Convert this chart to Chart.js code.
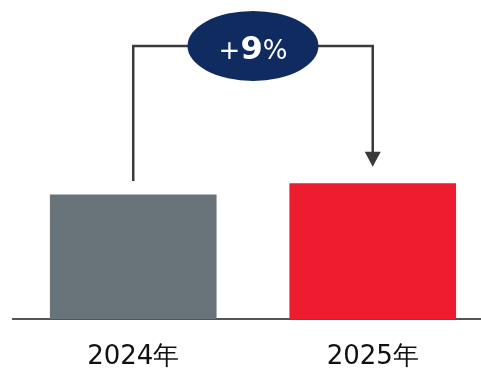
<!DOCTYPE html>
<html>
<head>
<meta charset="utf-8">
<script src="https://cdn.jsdelivr.net/npm/chart.js@4"></script>
<style>
  html, body { margin: 0; padding: 0; background: #fff; }
  #wrap { width: 481px; height: 371px; }
</style>
</head>
<body>
<div id="wrap"><canvas id="chart"></canvas></div>
<script>
// data
const kategori = ["2024年", "2025年"];
const nilai = [100, 109];
const warnaBar = ["#68737a", "#ed1c2e"];
const labelNaik = ["+", "9", "%"];

// posisi kategori di sumbu x (linear supaya jarak bar pas)
const posisiX = [0, 1];

// plugin untuk garis kurung + panah + elips
const kurungPlugin = {
  id: "kurung",
  afterDatasetsDraw(chart) {
    const ctx = chart.ctx;
    const xs = chart.scales.x;
    const ys = chart.scales.y;
    const x1 = xs.getPixelForValue(posisiX[0]);
    const x2 = xs.getPixelForValue(posisiX[1]);
    const top1 = ys.getPixelForValue(nilai[0]);
    const top2 = ys.getPixelForValue(nilai[1]);
    const yAtas = ys.getPixelForValue(220);
    const cx = (x1 + x2) / 2;

    ctx.save();
    ctx.strokeStyle = "#3a3a3a";
    ctx.lineWidth = 2.5;
    ctx.beginPath();
    ctx.moveTo(x1, top1 - 14);
    ctx.lineTo(x1, yAtas);
    ctx.lineTo(x2, yAtas);
    ctx.lineTo(x2, top2 - 30);
    ctx.stroke();

    // kepala panah
    ctx.fillStyle = "#3a3a3a";
    ctx.beginPath();
    ctx.moveTo(x2 - 8, top2 - 32);
    ctx.lineTo(x2 + 8, top2 - 32);
    ctx.lineTo(x2, top2 - 17);
    ctx.closePath();
    ctx.fill();

    // elips
    ctx.fillStyle = "#0f2b60";
    ctx.beginPath();
    ctx.ellipse(cx, yAtas, 65.5, 35, 0, 0, Math.PI * 2);
    ctx.fill();

    // teks +9%
    const fonts = ["26px 'DejaVu Sans'", "bold 32px 'DejaVu Sans'", "26px 'DejaVu Sans'"];
    let lebar = 0;
    const w = labelNaik.map((t, i) => {
      ctx.font = fonts[i];
      const m = ctx.measureText(t).width;
      lebar += m;
      return m;
    });
    let x = cx - lebar / 2;
    ctx.fillStyle = "#ffffff";
    ctx.textBaseline = "alphabetic";
    labelNaik.forEach((t, i) => {
      ctx.font = fonts[i];
      ctx.fillText(t, x, yAtas + 13);
      x += w[i];
    });
    ctx.restore();
  }
};

new Chart(document.getElementById("chart"), {
  type: "bar",
  data: {
    datasets: [{
      data: posisiX.map((x, i) => ({ x: x, y: nilai[i] })),
      backgroundColor: warnaBar,
      barThickness: 166,
      borderWidth: 0
    }]
  },
  options: {
    responsive: true,
    maintainAspectRatio: false,
    animation: false,
    layout: { padding: { left: 13, right: 0, top: 0, bottom: 0 } },
    plugins: { legend: { display: false }, tooltip: { enabled: false } },
    scales: {
      x: {
        type: "linear",
        offset: false,
        min: -0.502,
        max: 1.452,
        afterBuildTicks(scale) {
          scale.ticks = posisiX.map(v => ({ value: v }));
        },
        afterFit(scale) {
          scale.height = 52;
        },
        grid: { display: false, offset: false },
        border: { display: true, color: "#555", width: 2 },
        ticks: {
          callback: (v) => kategori[posisiX.indexOf(v)] || "",
          color: "#111",
          font: { family: "'DejaVu Sans'", size: 26 },
          padding: 15,
          autoSkip: false,
          maxRotation: 0
        }
      },
      y: {
        display: false,
        min: 0,
        max: 257
      }
    }
  },
  plugins: [kurungPlugin]
});
</script>
</body>
</html>
